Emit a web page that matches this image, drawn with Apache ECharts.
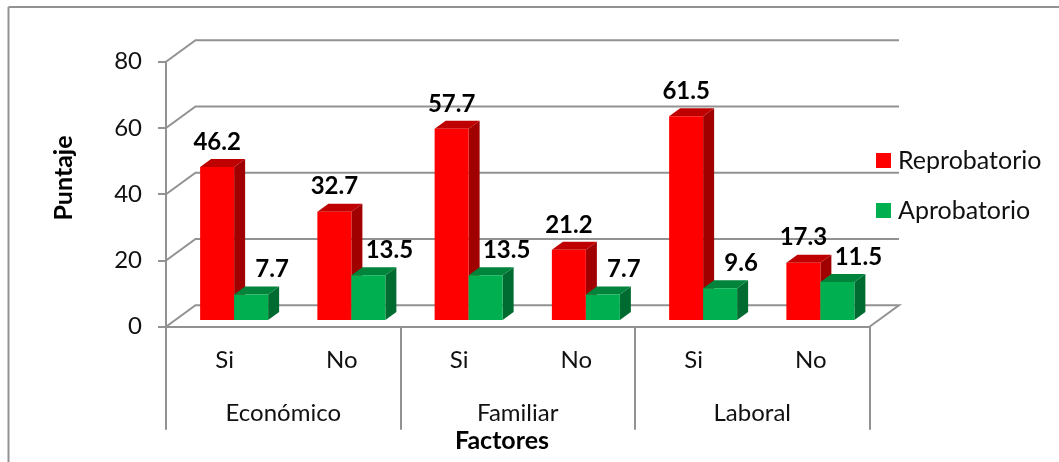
<!DOCTYPE html>
<html>
<head>
<meta charset="utf-8">
<style>html,body{margin:0;padding:0;background:#fff}#chart{width:1059px;height:462px}</style>
<script src="https://cdn.jsdelivr.net/npm/echarts@6/dist/echarts.min.js"></script>
</head>
<body>
<div id="chart"></div>
<script>
// Puntaje por factor y respuesta
const subCategories = ['Si', 'No', 'Si', 'No', 'Si', 'No'];
const groups = ['Económico', 'Familiar', 'Laboral'];
const reprobatorio = [46.2, 32.7, 57.7, 21.2, 61.5, 17.3];
const aprobatorio = [7.7, 13.5, 13.5, 7.7, 9.6, 11.5];
const yTicks = [0, 20, 40, 60, 80];

const FONT = 'Lato, "Open Sans", sans-serif';
const GRAY = '#929292';

// Oblique projection used for the fake 3D look
const WALL_DX = 29.5, WALL_DY = 21.5;   // depth of the chart box
const BAR_SHIFT_X = 9.5, BAR_SHIFT_Y = 6.7; // bars stand slightly behind the front edge
const BAR_W = 34, BAR_DX = 11, BAR_DY = 8;

function boxRenderer(offset, colors, labelDx) {
  return function (params, api) {
    const base = api.coord([api.value(0), 0]);
    const top = api.coord([api.value(0), api.value(1)]);
    const x0 = base[0] + BAR_SHIFT_X + offset;
    const x1 = x0 + BAR_W;
    const yb = base[1] - BAR_SHIFT_Y;
    const yt = top[1] - BAR_SHIFT_Y;
    return {
      type: 'group',
      children: [
        { type: 'polygon', shape: { points: [[x1, yb], [x1 + BAR_DX, yb - BAR_DY], [x1 + BAR_DX, yt - BAR_DY], [x1, yt]] }, style: { fill: colors.side } },
        { type: 'polygon', shape: { points: [[x0, yt], [x0 + BAR_DX, yt - BAR_DY], [x1 + BAR_DX, yt - BAR_DY], [x1, yt]] }, style: { fill: colors.top } },
        { type: 'rect', shape: { x: x0, y: yt, width: BAR_W, height: yb - yt }, style: { fill: colors.front } },
        { type: 'text', z2: 50, style: {
            text: api.value(1).toFixed(1),
            x: (x0 + x1) / 2 + labelDx, y: yt - BAR_DY - 17,
            align: 'center', verticalAlign: 'middle',
            font: 'bold 24px ' + FONT, fill: '#000'
        } }
      ]
    };
  };
}

function wallRenderer(params, api) {
  const cs = params.coordSys;
  const v = api.value(1);
  const y = api.coord([0, v])[1];
  const left = cs.x, right = cs.x + cs.width;
  const pts = [[left, y], [left + WALL_DX, y - WALL_DY], [right + WALL_DX, y - WALL_DY]];
  if (v === 0) pts.push([right, y]);
  return { type: 'polyline', shape: { points: pts }, style: { stroke: GRAY, lineWidth: 2, fill: null } };
}

const chart = echarts.init(document.getElementById('chart'));
chart.setOption({
  animation: false,
  backgroundColor: '#fff',
  grid: { left: 166, top: 61.7, width: 703.5, height: 265, containLabel: false },
  legend: {
    orient: 'vertical', left: 876, top: 148, padding: 0, itemWidth: 15, itemHeight: 15, itemGap: 25,
    icon: 'rect', selectedMode: false,
    data: ['Reprobatorio', 'Aprobatorio'],
    textStyle: { fontFamily: FONT, fontSize: 25, color: '#111', padding: [0, 0, 0, 2] }
  },
  xAxis: [
    { type: 'category', data: subCategories, position: 'bottom',
      axisLine: { show: true, lineStyle: { color: GRAY, width: 2 } },
      axisTick: { show: false },
      axisLabel: { interval: 0, margin: 22, fontFamily: FONT, fontSize: 24, color: '#111' } },
    { type: 'category', data: groups, position: 'bottom',
      axisLine: { show: false },
      axisTick: { show: true, length: 103, interval: 0, lineStyle: { color: GRAY, width: 2 } },
      axisLabel: { interval: 0, margin: 75, fontFamily: FONT, fontSize: 24, color: '#111' } }
  ],
  yAxis: {
    type: 'value', min: 0, max: 80, interval: 20,
    splitLine: { show: false },
    axisLine: { show: true, lineStyle: { color: GRAY, width: 2 } },
    axisTick: { show: true, length: 8, lineStyle: { color: GRAY, width: 2 } },
    axisLabel: { margin: 24, padding: [8, 0, 0, 0], fontFamily: FONT, fontSize: 24, color: '#111' }
  },
  graphic: [
    // outer chart frame: only the top and left edges are visible
    { type: 'line', silent: true, shape: { x1: 8.5, y1: 7, x2: 1059, y2: 7 }, style: { stroke: GRAY, lineWidth: 2 } },
    { type: 'line', silent: true, shape: { x1: 8.5, y1: 7, x2: 8.5, y2: 462 }, style: { stroke: GRAY, lineWidth: 2 } },
    { type: 'text', silent: true, x: 64, y: 178, rotation: Math.PI / 2,
      style: { text: 'Puntaje', font: 'bold 25px ' + FONT, fill: '#000', align: 'center', verticalAlign: 'middle' } },
    { type: 'text', silent: true, x: 502, y: 441,
      style: { text: 'Factores', font: 'bold 25px ' + FONT, fill: '#000', align: 'center', verticalAlign: 'middle' } }
  ],
  series: [
    { type: 'custom', name: 'walls', silent: true, clip: false, z: 1,
      renderItem: wallRenderer, data: yTicks.map(v => [0, v]) },
    { type: 'custom', name: 'Reprobatorio', clip: false, z: 2, itemStyle: { color: '#FF0000' },
      renderItem: boxRenderer(-BAR_W, { front: '#FF0000', top: '#BF0000', side: '#A00000' }, 0),
      data: reprobatorio.map((v, i) => [i, v]) },
    { type: 'custom', name: 'Aprobatorio', clip: false, z: 3, itemStyle: { color: '#00B050' },
      renderItem: boxRenderer(0, { front: '#00B050', top: '#00843C', side: '#006B30' }, 21),
      data: aprobatorio.map((v, i) => [i, v]) }
  ]
});
</script>
</body>
</html>
